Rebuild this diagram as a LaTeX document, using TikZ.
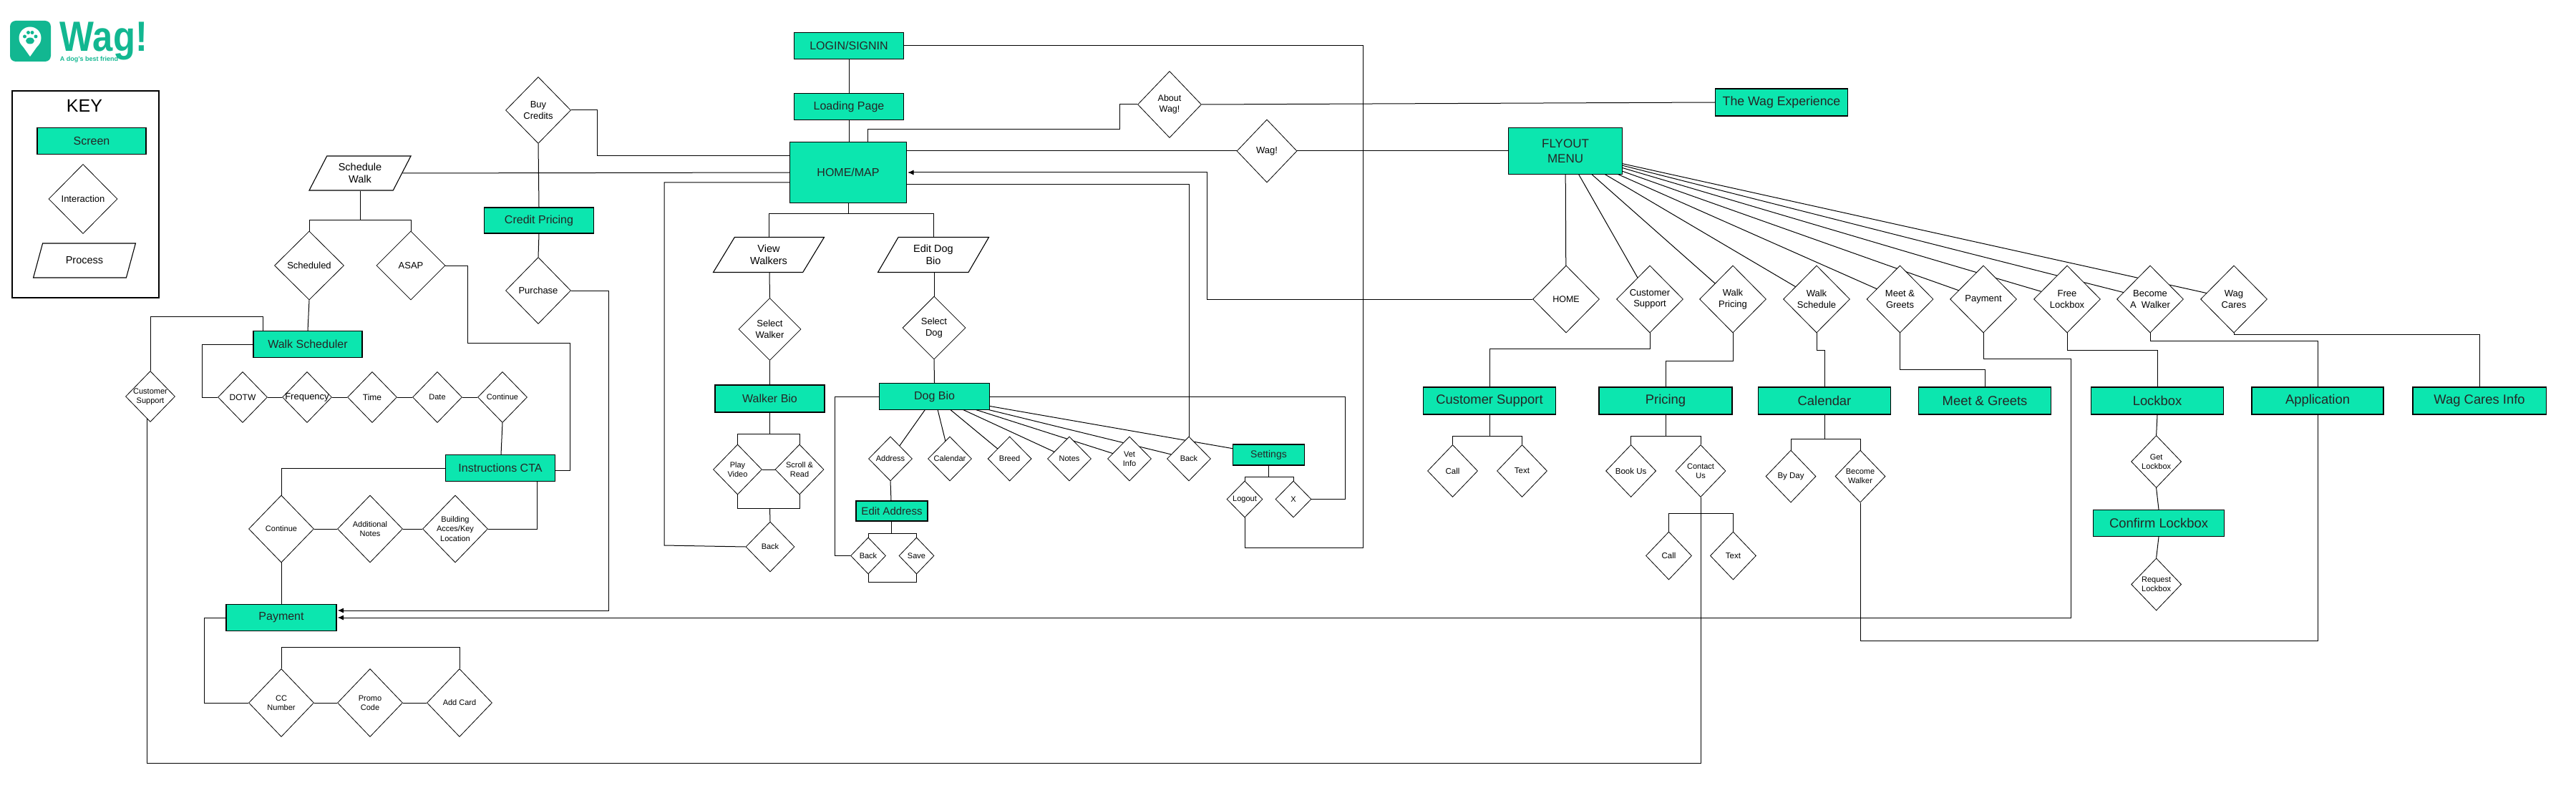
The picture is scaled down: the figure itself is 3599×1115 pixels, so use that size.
\documentclass[tikz,border=0pt]{standalone}
\usepackage{fontspec}
\setmainfont{Liberation Sans}
\usepackage{xcolor}
\usetikzlibrary{calc,arrows,arrows.meta,shapes.geometric,positioning}

\definecolor{wagscreen}{HTML}{0CE6AF}
\definecolor{waglogo}{HTML}{12B791}
\newcommand{\fsz}[1]{\fontsize{#1}{\the\dimexpr #1pt*6/5\relax}\selectfont}

\pgfdeclarelayer{wires}
\pgfsetlayers{wires,main}

\tikzset{
  wire/.style={draw=black, line width=1pt},
  arrowwire/.style={wire, -{Latex[length=8.5pt,width=7pt]}, shorten >=1pt},
  screen/.style n args={2}{draw=black, line width=1.1pt, fill=wagscreen, rectangle, inner sep=0pt,
    minimum width=#1pt, minimum height=#2pt, align=center, font=\fsz{16}, text=black!85},
  act/.style n args={2}{draw=black, line width=0.8pt, fill=white, diamond, shape aspect=1, inner sep=-14pt,
    minimum width=#1pt, minimum height=#2pt, align=center, font=\fsz{13}},
  proc/.style={draw=black, line width=1.1pt, fill=white, trapezium, trapezium left angle=60, trapezium right angle=120,
    trapezium stretches=true, inner sep=0pt, minimum width=143pt, minimum height=48pt, align=center, font=\fsz{14.5}},
}

\begin{document}
\begin{tikzpicture}[x=1pt,y=-1pt]
\useasboundingbox (0,0) rectangle (3599,1115);

% logo
\fill[waglogo, rounded corners=8pt] (14,29) rectangle (71,86);
\fill[white] (42,53) circle (15.5pt);
\fill[white] (28.5,60) -- (42,79) -- (55.5,60) -- cycle;
\fill[waglogo] (42,57) ellipse (6pt and 4.5pt);
\foreach \px/\py in {34.5/51,39.5/45.5,45/45.5,50/51}
  \fill[waglogo] (\px,\py) circle (2.5pt);
\node[inner sep=0pt, text=waglogo, font=\bfseries\fsz{59}] (logoname) at (145,57) {\scalebox{0.86}[1]{Wag!}};
\node[inner sep=0pt, text=waglogo, font=\bfseries\fsz{9}] (logotag) at (124.5,83) {A dog's best friend};

% key
\draw[line width=1.1pt] (17,127) rectangle (222,416);
\node[inner sep=0pt, font=\fsz{25}] (keytitle) at (118,148) {KEY};
\node[screen={152}{37}] (keyscreen) at (128,197) {Screen};
\node[act={96}{97}] (keyact) at (116,278) {Interaction};
\node[proc, minimum width=143pt] (keyproc) at (118,364) {Process};

% left part
\node[act={91}{93}] (buycredits) at (752,154) {Buy\\Credits};
\node[proc] (schedwalk) at (503,242) {Schedule\\Walk};
\node[screen={153}{36}] (creditprice) at (753,308) {Credit Pricing};
\node[act={91}{93}] (purchase) at (752,406) {Purchase};
\node[act={97}{96}] (scheduled) at (432,371) {Scheduled};
\node[act={96}{96}] (asap) at (574,371) {ASAP};
\node[screen={152}{37}] (walksched) at (430,481) {Walk Scheduler};
\node[act={69}{71}, font=\fsz{11}] (custsupport) at (210,554) {Customer\\Support};
\node[act={69}{71}, font=\fsz{12}] (dotw) at (339,555) {DOTW};
\node[act={69}{71}] (frequency) at (429,555) {Frequency};
\node[act={69}{71}, font=\fsz{12}] (timeact) at (520,555) {Time};
\node[act={69}{71}, font=\fsz{11}] (dateact) at (611,555) {Date};
\node[act={69}{71}, font=\fsz{11}] (contA) at (702,555) {Continue};
\node[screen={153}{37}] (instructions) at (699,654) {Instructions CTA};
\node[act={91}{94}, font=\fsz{11}] (contB) at (393,739) {Continue};
\node[act={91}{94}, font=\fsz{11}] (addnotes) at (517,739) {Additional\\Notes};
\node[act={91}{94}, font=\fsz{11}] (building) at (636,739) {Building\\Acces/Key\\Location};
\node[screen={154}{37}] (payment) at (393,863) {Payment};
\node[act={91}{95}, font=\fsz{11}] (ccnumber) at (393,982) {CC\\Number};
\node[act={91}{95}, font=\fsz{11}] (promo) at (517,982) {Promo\\Code};
\node[act={91}{95}, font=\fsz{11}] (addcard) at (642,982) {Add Card};

% middle part
\node[screen={153}{37}] (login) at (1186,64) {LOGIN/SIGNIN};
\node[screen={153}{37}] (loading) at (1186,149) {Loading Page};
\node[screen={163}{85}] (home) at (1185,241) {HOME/MAP};
\node[act={89}{93}, font=\fsz{12.5}] (aboutwag) at (1634,146) {About\\Wag!};
\node[act={84}{88}] (wagact) at (1770,211) {Wag!};
\node[screen={185}{38}, font=\fsz{17.7}] (wagexp) at (2489,143) {The Wag Experience};
\node[proc, minimum width=156pt, minimum height=49pt] (viewwalkers) at (1074,356) {View\\Walkers};
\node[proc, minimum width=156pt, minimum height=49pt] (editdog) at (1304,356) {Edit Dog\\Bio};
\node[act={87}{87}] (selwalker) at (1075.5,460) {Select\\Walker};
\node[act={88}{88}] (seldog) at (1305,458) {Select\\Dog};
\node[screen={153}{38}] (walkerbio) at (1075.5,557) {Walker Bio};
\node[screen={154}{37}] (dogbio) at (1305.5,554) {Dog Bio};
\node[act={68}{70}, font=\fsz{11}] (playvideo) at (1030.5,656) {Play\\Video};
\node[act={68}{70}, font=\fsz{11}] (scroll) at (1117,656) {Scroll \&\\Read};
\node[act={68}{70}, font=\fsz{11}] (backA) at (1076,764) {Back};
\node[act={61}{62}, font=\fsz{11}] (address) at (1244,641) {Address};
\node[act={61}{62}, font=\fsz{11}] (calendarA) at (1327,641) {Calendar};
\node[act={61}{62}, font=\fsz{11}] (breed) at (1410.6,641) {Breed};
\node[act={61}{62}, font=\fsz{11}] (notes) at (1494,641) {Notes};
\node[act={61}{62}, font=\fsz{11}] (vetinfo) at (1578,641) {Vet\\Info};
\node[act={61}{62}, font=\fsz{11}] (backB) at (1661,641) {Back};
\node[screen={100}{29}, font=\fsz{14}] (settings) at (1772.5,635.5) {Settings};
\node[act={50}{51}, font=\fsz{11}] (logout) at (1739,697.5) {Logout};
\node[act={50}{51}, font=\fsz{11}] (xact) at (1807,697.5) {X};
\node[screen={100}{28}, font=\fsz{15}] (editaddr) at (1246,714) {Edit Address};
\node[act={49}{51}, font=\fsz{11}] (backC) at (1213,776.5) {Back};
\node[act={49}{51}, font=\fsz{11}] (savact) at (1280.5,776.5) {Save};

% flyout
\node[screen={159}{65}, font=\fsz{17}] (flyout) at (2187,211) {FLYOUT\\MENU};
\node[act={93}{94}, font=\fsz{12.5}] (fhome) at (2188,418) {HOME};
\node[act={93}{94}] (fsupport) at (2305,418) {Customer\\Support};
\node[act={93}{94}] (fpricing) at (2421,418) {Walk\\Pricing};
\node[act={93}{94}] (fschedule) at (2538,418) {Walk\\Schedule};
\node[act={93}{94}] (fmeet) at (2654.5,418) {Meet \&\\Greets};
\node[act={93}{94}] (fpayment) at (2771,418) {Payment};
\node[act={93}{94}] (flockbox) at (2888,418) {Free\\Lockbox};
\node[act={93}{94}] (fbecome) at (3004,418) {Become\\A~~Walker};
\node[act={93}{94}] (fcares) at (3121,418) {Wag\\Cares};

\node[screen={185}{38}, font=\fsz{18.4}] (supportscr) at (2081,560) {Customer Support};
\node[screen={186}{38}, font=\fsz{18.4}] (pricing) at (2327,560) {Pricing};
\node[screen={185}{38}, font=\fsz{18.4}] (calendarB) at (2549,560) {Calendar};
\node[screen={185}{38}, font=\fsz{18.4}] (meetscr) at (2773,560) {Meet \& Greets};
\node[screen={185}{38}, font=\fsz{18.4}] (lockbox) at (3014,560) {Lockbox};
\node[screen={184}{38}, font=\fsz{18.4}] (application) at (3238,560) {Application};
\node[screen={186}{38}, font=\fsz{18.4}] (caresinfo) at (3464,560) {Wag Cares Info};

\node[act={70}{73}, font=\fsz{11.5}] (callA) at (2029.5,658) {Call};
\node[act={70}{73}, font=\fsz{11.5}] (textA) at (2126.5,658) {Text};
\node[act={70}{73}, font=\fsz{11.5}] (bookus) at (2278.6,658) {Book Us};
\node[act={70}{73}, font=\fsz{11}] (contactus) at (2376,658) {Contact\\Us};
\node[act={64}{67}, font=\fsz{11.5}] (callB) at (2331.5,776.5) {Call};
\node[act={64}{67}, font=\fsz{11.5}] (textB) at (2421.4,776.5) {Text};
\node[act={70}{73}, font=\fsz{11.5}] (byday) at (2502,665.6) {By Day};
\node[act={70}{73}, font=\fsz{11}] (becomewalker) at (2599,665.6) {Become\\Walker};
\node[act={70}{73}, font=\fsz{11}] (getlock) at (3012.6,645) {Get\\Lockbox};
\node[screen={183}{37}, font=\fsz{18.4}] (confirmlock) at (3016,731) {Confirm Lockbox};
\node[act={70}{73}, font=\fsz{11}] (reqlock) at (3012.6,816.5) {Request\\Lockbox};

\begin{pgfonlayer}{wires}
  % top of the middle column
  \draw[wire] (login.south) -- (loading.north);
  \draw[wire] (loading.south) -- (home.north -| loading.south);
  \draw[wire] (login.east) -- (1904,64) -- (1904,765) -- (1739,765) -- (logout.south);
  \draw[wire] (home.north -| 1212,0) -- (1212,181) -- (1564,181) -- (1564,146) -- (aboutwag.west);
  \draw[wire] (aboutwag.east) -- (wagexp.west);
  \draw[wire] (home.east |- 0,211) -- (wagact.west);
  \draw[wire] (wagact.east) -- (flyout.west);
  \draw[arrowwire] (fhome.west) -- (1686,418) -- (1686,241) -- (home.east);
  \draw[wire] (home.east |- 0,258) -- (1661,258) -- (backB.north);
  \draw[wire] (home.west |- 0,255) -- (928,255) -- (928,762) -- (backA.west);

  % schedule side
  \draw[wire] (buycredits.east) -- (834,154) -- (834,218) -- (home.west |- 0,218);
  \draw[wire] (schedwalk.east) -- (home.west);
  \draw[wire] (buycredits.south) -- (creditprice.north);
  \draw[wire] (creditprice.south) -- (purchase.north);
  \draw[arrowwire] (purchase.east) -- (850,406) -- (850,853) -- (payment.east |- 0,853);
  \draw[wire] (schedwalk.south -| 503,0) -- (503,307);
  \draw[wire] (scheduled.north) -- (432,307) -- (574,307) -- (asap.north);
  \draw[wire] (scheduled.south) -- (walksched.north);
  \draw[wire] (asap.east) -- (653,371) -- (653,479) -- (796,479) -- (796,657) -- (instructions.east |- 0,657);
  \draw[wire] (walksched.north -| 367,0) -- (367,442) -- (210,442) -- (custsupport.north);
  \draw[wire] (walksched.west) -- (282,481) -- (282,555) -- (dotw.west);
  \draw[wire] (dotw.east) -- (frequency.west);
  \draw[wire] (frequency.east) -- (timeact.west);
  \draw[wire] (timeact.east) -- (dateact.west);
  \draw[wire] (dateact.east) -- (contA.west);
  \draw[wire] (contA.south) -- (instructions.north -| 700,0);
  \draw[wire] (instructions.west) -- (393,654) -- (contB.north);
  \draw[wire] (contB.east) -- (addnotes.west);
  \draw[wire] (addnotes.east) -- (building.west);
  \draw[wire] (building.east) -- (750,739) -- (instructions.south -| 750,0);
  \draw[wire] (contB.south) -- (payment.north);
  \draw[wire] (payment.west) -- (285,863) -- (285,982) -- (ccnumber.west);
  \draw[wire] (ccnumber.east) -- (promo.west);
  \draw[wire] (promo.east) -- (addcard.west);
  \draw[wire] (ccnumber.north) -- (393,904) -- (642,904) -- (addcard.north);
  \draw[wire] (contactus.south) -- (2376,1066) -- (205.5,1066) -- (custsupport.center -| 205.5,0);

  % walkers and dog bio
  \draw[wire] (home.south) -- (1185,298);
  \draw[wire] (viewwalkers.north -| 1074.5,0) -- (1074.5,298) -- (1304,298) -- (editdog.north -| 1304,0);
  \draw[wire] (viewwalkers.south -| 1075,0) -- (selwalker.north);
  \draw[wire] (editdog.south -| 1305,0) -- (seldog.north);
  \draw[wire] (selwalker.south) -- (walkerbio.north);
  \draw[wire] (seldog.south) -- (dogbio.north);
  \draw[wire] (walkerbio.south) -- (1075.5,606.5);
  \draw[wire] (playvideo.north) -- (1030.5,606.5) -- (1117,606.5) -- (scroll.north);
  \draw[wire] (playvideo.east) -- (scroll.west);
  \draw[wire] (playvideo.south) -- (1030.5,710.5) -- (1117,710.5) -- (scroll.south);
  \draw[wire] (1075.5,710.5) -- (backA.north);
  \foreach \item in {address,calendarA,breed,notes,vetinfo,backB,settings}
    \draw[wire] (dogbio.center) -- (\item.center);
  \draw[wire] (dogbio.west) -- (1166,554) -- (1166,776.5) -- (backC.west);
  \draw[wire] (dogbio.east) -- (1879,554) -- (1879,697.5) -- (xact.east);
  \draw[wire] (address.south) -- (editaddr.north -| 1245,0);
  \draw[wire] (editaddr.south -| 1245,0) -- (1245,745.4);
  \draw[wire] (backC.north) -- (1213,745.4) -- (1280.5,745.4) -- (savact.north);
  \draw[wire] (backC.south) -- (1213,813.4) -- (1280.5,813.4) -- (savact.south);
  \draw[wire] (settings.south) -- (1772.5,666);
  \draw[wire] (logout.north) -- (1739,666) -- (1807,666) -- (xact.north);

  % flyout menu
  \foreach \item in {fhome,fsupport,fpricing,fschedule,fmeet,fpayment,flockbox,fbecome,fcares}
    \draw[wire] (flyout.center) -- (\item.center);
  \draw[wire] (fsupport.south) -- (2305,487) -- (2081,487) -- (supportscr.north);
  \draw[wire] (fpricing.south) -- (2421,504) -- (2327,504) -- (pricing.north);
  \draw[wire] (fschedule.south) -- (2538,489) -- (2549,489) -- (calendarB.north);
  \draw[wire] (fmeet.south) -- (2654.5,516) -- (2773,516) -- (meetscr.north);
  \draw[arrowwire] (fpayment.south) -- (2771,501) -- (2893,501) -- (2893,863) -- (payment.east);
  \draw[wire] (flockbox.south) -- (2888,489) -- (3014,489) -- (lockbox.north);
  \draw[wire] (fbecome.south) -- (3004,476) -- (3238,476) -- (application.north);
  \draw[wire] (fcares.south) -- (3121,467) -- (3464,467) -- (caresinfo.north);

  % below the flyout screens
  \draw[wire] (supportscr.south) -- (2081,609.6);
  \draw[wire] (callA.north) -- (2029.5,609.6) -- (2126.5,609.6) -- (textA.north);
  \draw[wire] (pricing.south) -- (2327,609.6);
  \draw[wire] (bookus.north) -- (2278.6,609.6) -- (2376,609.6) -- (contactus.north);
  \draw[wire] (callB.north) -- (2331.5,717) -- (2421.4,717) -- (textB.north);
  \draw[wire] (calendarB.south) -- (2549,613.4);
  \draw[wire] (byday.north) -- (2502,613.4) -- (2599,613.4) -- (becomewalker.north);
  \draw[wire] (becomewalker.south) -- (2599,895) -- (3238,895) -- (application.south);
  \draw[wire] (lockbox.south) -- (getlock.north);
  \draw[wire] (getlock.south) -- (confirmlock.north);
  \draw[wire] (confirmlock.south) -- (reqlock.north);
\end{pgfonlayer}

\end{tikzpicture}
\end{document}
